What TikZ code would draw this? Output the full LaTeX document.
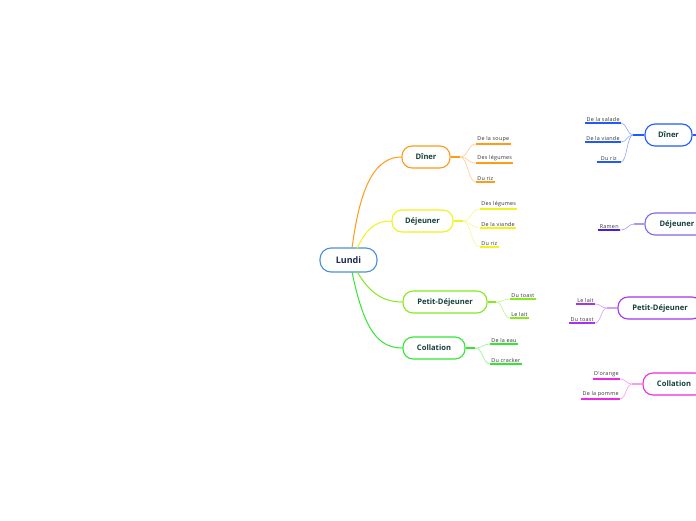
\documentclass[tikz,border=0pt]{standalone}
\usepackage{fontspec}
\setmainfont{Open Sans}
\newfontfamily\leaffont[LetterSpace=5]{Open Sans}
\definecolor{cOr}{HTML}{FF9A1A}\definecolor{cOrL}{HTML}{FFCB8A}
\definecolor{cYe}{HTML}{F2F21E}\definecolor{cYeL}{HTML}{F8F890}
\definecolor{cLi}{HTML}{86EA1E}\definecolor{cLiL}{HTML}{C0F58A}
\definecolor{cGr}{HTML}{33E633}\definecolor{cGrL}{HTML}{96F296}
\definecolor{cRoot}{HTML}{4A90D9}
\definecolor{cBl}{HTML}{1F5AFF}\definecolor{cBlL}{HTML}{8AA6FF}
\definecolor{cIn}{HTML}{4A1AE6}\definecolor{cInL}{HTML}{A898F5}
\definecolor{cPu}{HTML}{A533F0}\definecolor{cPuL}{HTML}{D6A0F7}
\definecolor{cMa}{HTML}{EB2BE0}\definecolor{cMaL}{HTML}{F5A0F0}
\definecolor{tNode}{HTML}{16403A}
\definecolor{tRoot}{HTML}{1B2A52}
\tikzset{
  x=1pt, y=-1pt,
  topic/.style={draw=#1, line width=1.1pt, fill=white, rounded corners=10pt,
     minimum height=22pt, inner sep=0pt, font=\bfseries\fontsize{7.6}{8}\selectfont, text=tNode},
  rootnode/.style={draw=cRoot, line width=1.1pt, fill=white, rounded corners=11pt,
     minimum height=24pt, minimum width=57pt, inner sep=0pt, font=\bfseries\fontsize{9}{10}\selectfont, text=tRoot},
  leafL/.style={anchor=south west, inner xsep=1.2pt, inner ysep=1.6pt, font=\leaffont\fontsize{5.4}{6}\selectfont, text=black!80},
  leafR/.style={anchor=south east, inner xsep=1.2pt, inner ysep=1.6pt, font=\leaffont\fontsize{5.4}{6}\selectfont, text=black!80},
  uline/.style={draw=#1, line width=1.1pt},
  stub/.style={draw=#1, line width=1.4pt},
  twig/.style={draw=#1, line width=0.6pt},
  branch/.style={draw=#1, line width=1pt},
}
\begin{document}
\begin{tikzpicture}
\useasboundingbox (0,0) rectangle (696,520);
\clip (0,0) rectangle (696,520);
\fill[white] (0,0) rectangle (696,520);

% root
\node[rootnode] (lundi) at (348.5,260) {Lundi};

% left-side topics
\node[topic=cOr, minimum width=48pt] (din) at (426,157) {Dîner};
\node[topic=cYe, minimum width=61pt] (dej) at (422.5,221) {Déjeuner};
\node[topic=cLi, minimum width=84pt] (pdj) at (445,302) {Petit-Déjeuner};
\node[topic=cGr, minimum width=62pt] (col) at (434,348) {Collation};

% branches from root
\coordinate (rA) at (352,248);
\coordinate (rB) at (357,248.5);
\coordinate (rC) at (357,271.5);
\coordinate (rD) at (352,272);
\draw[branch=cOr] (rA) .. controls (358,205) and (368,157) .. (din.west);
\draw[branch=cYe] (rB) .. controls (366,230) and (374,221) .. (dej.west);
\draw[branch=cLi] (rC) .. controls (370,294) and (384,302) .. (pdj.west);
\draw[branch=cGr] (rD) .. controls (364,330) and (378,348) .. (col.west);

% Dîner leaves
\node[leafL] (d1) at (476,144) {De la soupe};
\node[leafL] (d2) at (476,163) {Des légumes};
\node[leafL] (d3) at (476,182) {Du riz};
\coordinate (dinJ) at (460,157);
\draw[stub=cOr] (din.east) -- (dinJ);
\foreach \l in {d1,d2,d3}{
  \draw[twig=cOrL] (dinJ) .. controls (468,157) and (468,0|-\l.south west) .. (\l.south west);
  \draw[uline=cOr] (\l.south west) -- (\l.south east);
}

% Déjeuner leaves
\node[leafL] (j1) at (480,209) {Des légumes};
\node[leafL] (j2) at (480,228) {De la viande};
\node[leafL] (j3) at (480,247) {Du riz};
\coordinate (dejJ) at (463,221);
\draw[stub=cYe] (dej.east) -- (dejJ);
\foreach \l in {j1,j2,j3}{
  \draw[twig=cYeL] (dejJ) .. controls (471,221) and (471,0|-\l.south west) .. (\l.south west);
  \draw[uline=cYe] (\l.south west) -- (\l.south east);
}

% Petit-Déjeuner leaves
\node[leafL] (p1) at (510,299) {Du toast};
\node[leafL] (p2) at (510,318) {Le lait};
\coordinate (pdjJ) at (496,302);
\draw[stub=cLi] (pdj.east) -- (pdjJ);
\foreach \l in {p1,p2}{
  \draw[twig=cLiL] (pdjJ) .. controls (503,302) and (503,0|-\l.south west) .. (\l.south west);
  \draw[uline=cLi] (\l.south west) -- (\l.south east);
}

% Collation leaves
\node[leafL] (c1) at (490,344) {De la eau};
\node[leafL] (c2) at (490,364) {Du cracker};
\coordinate (colJ) at (475,348);
\draw[stub=cGr] (col.east) -- (colJ);
\foreach \l in {c1,c2}{
  \draw[twig=cGrL] (colJ) .. controls (483,348) and (483,0|-\l.south west) .. (\l.south west);
  \draw[uline=cGr] (\l.south west) -- (\l.south east);
}

% right-side topics (cut by the frame)
\node[topic=cBl, minimum width=47pt] (rdin) at (668.5,135) {Dîner};
\coordinate (rdinE) at (720,135);
\draw[stub=cBl] (rdin.east) -- (rdinE);
\node[topic=cIn, minimum width=64pt, draw=cInL!60!cIn] (rdej) at (677,224) {Déjeuner};
\node[topic=cPu, minimum width=84pt] (rpdj) at (660,308) {Petit-Déjeuner};
\node[topic=cMa, minimum width=62pt] (rcol) at (674,384) {Collation};

% right Dîner leaves
\node[leafR] (e1) at (621,123) {De la salade};
\node[leafR] (e2) at (621,142) {De la viande};
\node[leafR, minimum width=24pt, align=right] (e3) at (621,162) {\hfill Du riz};
\coordinate (rdinJ) at (633,135);
\draw[stub=cBl] (rdin.west) -- (rdinJ);
\foreach \l in {e1,e2,e3}{
  \draw[twig=cBlL] (rdinJ) .. controls (627,135) and (627,0|-\l.south east) .. (\l.south east);
  \draw[uline=cBl] (\l.south west) -- (\l.south east);
}

% right Déjeuner leaf
\node[leafR] (f1) at (620,230) {Ramen};
\coordinate (rdejJ) at (634,224);
\draw[stub=cInL] (rdej.west) -- (rdejJ);
\draw[twig=cInL] (rdejJ) .. controls (628,224) and (628,230) .. (f1.south east);
\draw[uline=cIn] (f1.south west) -- (f1.south east);

% right Petit-Déjeuner leaves
\node[leafR] (g1) at (595,304) {Le lait};
\node[leafR] (g2) at (595,323) {Du toast};
\coordinate (rpdjJ) at (607,308);
\draw[stub=cPuL] (rpdj.west) -- (rpdjJ);
\foreach \l in {g1,g2}{
  \draw[twig=cPuL] (rpdjJ) .. controls (601,308) and (601,0|-\l.south east) .. (\l.south east);
  \draw[uline=cPu] (\l.south west) -- (\l.south east);
}

% right Collation leaves
\node[leafR] (h1) at (620,379) {D'orange};
\node[leafR] (h2) at (620,399) {De la pomme};
\coordinate (rcolJ) at (632,384);
\draw[stub=cMaL] (rcol.west) -- (rcolJ);
\foreach \l in {h1,h2}{
  \draw[twig=cMaL] (rcolJ) .. controls (626,384) and (626,0|-\l.south east) .. (\l.south east);
  \draw[uline=cMa] (\l.south west) -- (\l.south east);
}
\end{tikzpicture}
\end{document}
